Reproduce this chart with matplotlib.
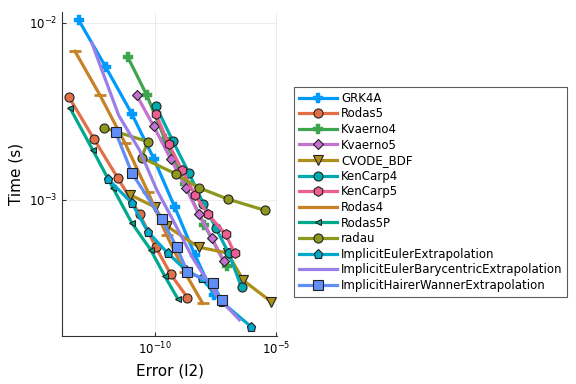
import matplotlib
matplotlib.use("Agg")
import matplotlib.pyplot as plt

# work-precision data (error in l2, time in s)
names = ["GRK4A", "Rodas5", "Kvaerno4", "Kvaerno5", "CVODE_BDF", "KenCarp4", "KenCarp5",
         "Rodas4", "Rodas5P", "radau", "ImplicitEulerExtrapolation",
         "ImplicitEulerBarycentricExtrapolation", "ImplicitHairerWannerExtrapolation"]

grk4a_err = [7.7e-14, 9.8e-13, 1.14e-11, 9.1e-11, 6.6e-10, 4.4e-9, 2.6e-8]
grk4a_time = [1.03e-2, 5.6e-3, 3.06e-3, 1.71e-3, 9.1e-4, 4.9e-4, 2.9e-4]

rodas5_err = [3.0e-14, 3.2e-13, 3.0e-12, 2.4e-11, 1.1e-10, 4.5e-10, 2.2e-9]
rodas5_time = [3.8e-3, 2.2e-3, 1.33e-3, 8.3e-4, 5.4e-4, 3.8e-4, 2.8e-4]

kvaerno4_err = [7.8e-12, 4.7e-11, 2.6e-10, 1.7e-9, 1.1e-8, 8.9e-8]
kvaerno4_time = [6.4e-3, 3.9e-3, 2.2e-3, 1.22e-3, 7.2e-4, 4.2e-4]

kvaerno5_err = [1.8e-11, 9.1e-11, 4.5e-10, 1.9e-9, 6.4e-9, 2.2e-8, 6.7e-8]
kvaerno5_time = [3.9e-3, 2.6e-3, 1.7e-3, 1.17e-3, 8.3e-4, 6.1e-4, 4.5e-4]

cvode_err = [9.4e-12, 1.0e-10, 3.1e-10, 6.4e-9, 9.8e-8, 4.4e-7, 6.2e-6]
cvode_time = [1.07e-3, 9.1e-4, 7.1e-4, 5.4e-4, 5.0e-4, 3.5e-4, 2.65e-4]

kencarp4_err = [1.1e-10, 5.5e-10, 2.5e-9, 1.0e-8, 3.2e-8, 1.08e-7, 3.7e-7]
kencarp4_time = [3.4e-3, 2.15e-3, 1.42e-3, 9.5e-4, 6.95e-4, 5.0e-4, 3.2e-4]

kencarp5_err = [1.1e-10, 3.7e-10, 1.3e-9, 4.4e-9, 1.5e-8, 8.1e-8, 1.9e-7]
kencarp5_time = [3.06e-3, 2.07e-3, 1.48e-3, 1.07e-3, 8.3e-4, 6.4e-4, 5.0e-4]

rodas4_err = [5.3e-14, 5.6e-13, 5.9e-12, 5.2e-11, 3.1e-10, 1.7e-9, 9.3e-9]
rodas4_time = [6.9e-3, 3.9e-3, 2.1e-3, 1.11e-3, 6.3e-4, 3.9e-4, 2.6e-4]

rodas5p_err = [3.3e-14, 2.9e-13, 1.9e-12, 1.14e-11, 6.9e-11, 2.6e-10, 8.8e-10]
rodas5p_time = [3.3e-3, 1.9e-3, 1.17e-3, 7.4e-4, 5.2e-4, 3.7e-4, 2.76e-4]

radau_err = [8.1e-13, 5.2e-11, 2.9e-11, 7.3e-10, 6.4e-9, 9.8e-8, 3.5e-6]
radau_time = [2.55e-3, 2.13e-3, 1.73e-3, 1.40e-3, 1.17e-3, 1.01e-3, 8.7e-4]

iee_err = [1.19e-12, 1.14e-11, 5.2e-11, 3.4e-10, 1.9e-9, 8.4e-9, 5.6e-8, 9.4e-7]
iee_time = [1.31e-3, 9.6e-4, 6.6e-4, 5.0e-4, 4.0e-4, 3.6e-4, 2.65e-4, 1.91e-4]

iebe_err = [2.6e-13, 3.3e-12, 2.4e-11, 1.2e-10, 5.0e-10, 3.6e-9, 3.8e-8, 3.0e-7]
iebe_time = [7.7e-3, 3.0e-3, 1.9e-3, 1.14e-3, 7.9e-4, 4.7e-4, 2.83e-4, 2.1e-4]

ihwe_err = [2.5e-12, 1.14e-11, 1.9e-10, 8.0e-10, 2.2e-9, 2.4e-8, 5.6e-8]
ihwe_time = [2.4e-3, 1.42e-3, 7.8e-4, 5.4e-4, 3.9e-4, 3.4e-4, 2.7e-4]

errs = [grk4a_err, rodas5_err, kvaerno4_err, kvaerno5_err, cvode_err, kencarp4_err, kencarp5_err,
        rodas4_err, rodas5p_err, radau_err, iee_err, iebe_err, ihwe_err]
times = [grk4a_time, rodas5_time, kvaerno4_time, kvaerno5_time, cvode_time, kencarp4_time, kencarp5_time,
         rodas4_time, rodas5p_time, radau_time, iee_time, iebe_time, ihwe_time]

colors = ["#009AFA", "#E36F47", "#3EA44E", "#C371D2", "#AC8E18", "#00AAAE", "#ED5E93",
          "#C68225", "#00A98D", "#8E971E", "#00A9CB", "#9B7FE9", "#618DF6"]
markers = ["P", "o", "P", "D", "v", "o", "h", "_", "<", "o", "p", None, "s"]
msizes = [6.5, 6.5, 6.5, 5, 7, 6.5, 7, 8, 4.5, 6.5, 6.5, 0, 7]

fig = plt.figure(figsize=(5.76, 3.84), dpi=100)
ax = fig.add_axes([62/576, 48/384, 215/576, 324/384])

for e, t, c, m, ms, name in zip(errs, times, colors, markers, msizes, names):
    if m in ("P", "_"):
        # cross / hline markers have no black outline
        ax.plot(e, t, color=c, lw=2.3, marker=m, ms=ms, mfc=c, mec=c,
                mew=2 if m == "_" else 0.3, label=name)
    elif m is None:
        ax.plot(e, t, color=c, lw=2.3, label=name)
    else:
        ax.plot(e, t, color=c, lw=2.3, marker=m, ms=ms, mfc=c, mec="#222222",
                mew=0.8, label=name)

ax.set_xscale("log")
ax.set_yscale("log")
ax.set_xlim(1.55e-14, 1.05e-5)
ax.set_ylim(1.7e-4, 1.15e-2)
ax.set_xticks([1e-10, 1e-5])
ax.set_yticks([1e-3, 1e-2])
ax.minorticks_off()
ax.tick_params(direction="in", length=3, labelsize=8.5, color="#333333")
ax.grid(True, color="black", alpha=0.08, lw=0.6)
for s in ["top", "right"]:
    ax.spines[s].set_visible(False)
for s in ["left", "bottom"]:
    ax.spines[s].set_color("#333333")

ax.set_xlabel("Error (l2)", fontsize=11)
ax.set_ylabel("Time (s)", fontsize=11)

leg = ax.legend(loc="upper left", bbox_to_anchor=(294/576, 1 - 87/384),
                bbox_transform=fig.transFigure, fontsize=8.5, frameon=True,
                fancybox=False, borderpad=0.4, labelspacing=0.22, handlelength=3.2,
                handletextpad=0.4, borderaxespad=0)
leg.get_frame().set_edgecolor("#333333")
leg.get_frame().set_linewidth(0.8)

fig.savefig("out.png", dpi=100)
